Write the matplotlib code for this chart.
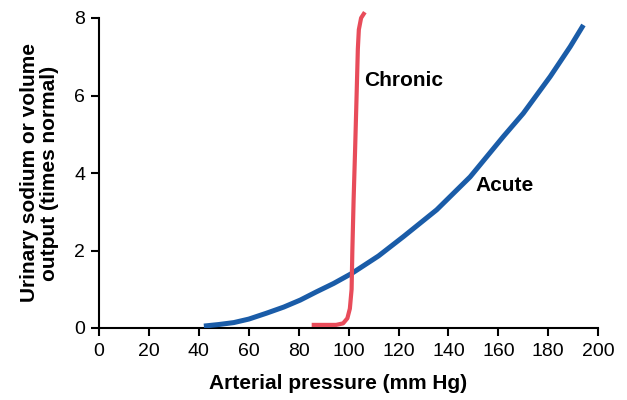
import matplotlib
matplotlib.use("Agg")
import matplotlib.pyplot as plt

plt.rcParams['font.family'] = ['Liberation Sans', 'DejaVu Sans']

acute_x = [42, 48, 54, 60, 67, 74, 80.6, 87, 94, 101.3, 112, 122, 135.3, 148.7, 162, 170, 180.8, 188.8, 194.1]
acute_y = [0.05, 0.09, 0.14, 0.23, 0.38, 0.54, 0.72, 0.93, 1.15, 1.41, 1.86, 2.36, 3.05, 3.9, 4.94, 5.54, 6.49, 7.26, 7.82]

chronic_x = [85.2, 95, 97.8, 99.5, 100.5, 101.2, 101.5, 102, 102.6, 103.2, 103.7, 104.1, 105, 106.5]
chronic_y = [0.08, 0.08, 0.12, 0.25, 0.5, 1.0, 2.0, 3.3, 4.6, 6.0, 7.2, 7.7, 8.0, 8.15]

xticks = [0, 20, 40, 60, 80, 100, 120, 140, 160, 180, 200]
yticks = [0, 2, 4, 6, 8]

fig = plt.figure(figsize=(6.27, 4.0), dpi=100)
ax = fig.add_axes([0.158, 0.18, 0.796, 0.775])

ax.plot(acute_x, acute_y, color='#1a5ca8', lw=3.6, solid_capstyle='butt',
        solid_joinstyle='round', zorder=3)
ax.plot(chronic_x, chronic_y, color='#e84c5a', lw=3.0, solid_capstyle='butt',
        solid_joinstyle='round', zorder=4, clip_on=False)

ax.text(106.4, 6.4, 'Chronic', fontsize=15, fontweight='bold', va='center', ha='left')
ax.text(150.8, 3.69, 'Acute', fontsize=15, fontweight='bold', va='center', ha='left')

ax.set_xlim(0, 200)
ax.set_ylim(0, 8)
ax.set_xticks(xticks)
ax.set_yticks(yticks)
for s in ['top', 'right']:
    ax.spines[s].set_visible(False)
for s in ['left', 'bottom']:
    ax.spines[s].set_linewidth(1.5)
ax.tick_params(direction='out', length=6, width=1.5, labelsize=14)
ax.tick_params(axis='x', pad=5)
ax.tick_params(axis='y', pad=4)

ax.set_xlabel('Arterial pressure (mm Hg)', fontsize=15, fontweight='bold')
ax.xaxis.set_label_coords(0.479, -0.148)
ax.set_ylabel('Urinary sodium or volume\noutput (times normal)', fontsize=15,
              fontweight='bold', linespacing=1.05)
ax.yaxis.set_label_coords(-0.08, 0.5)

fig.savefig('out.png', dpi=100)
